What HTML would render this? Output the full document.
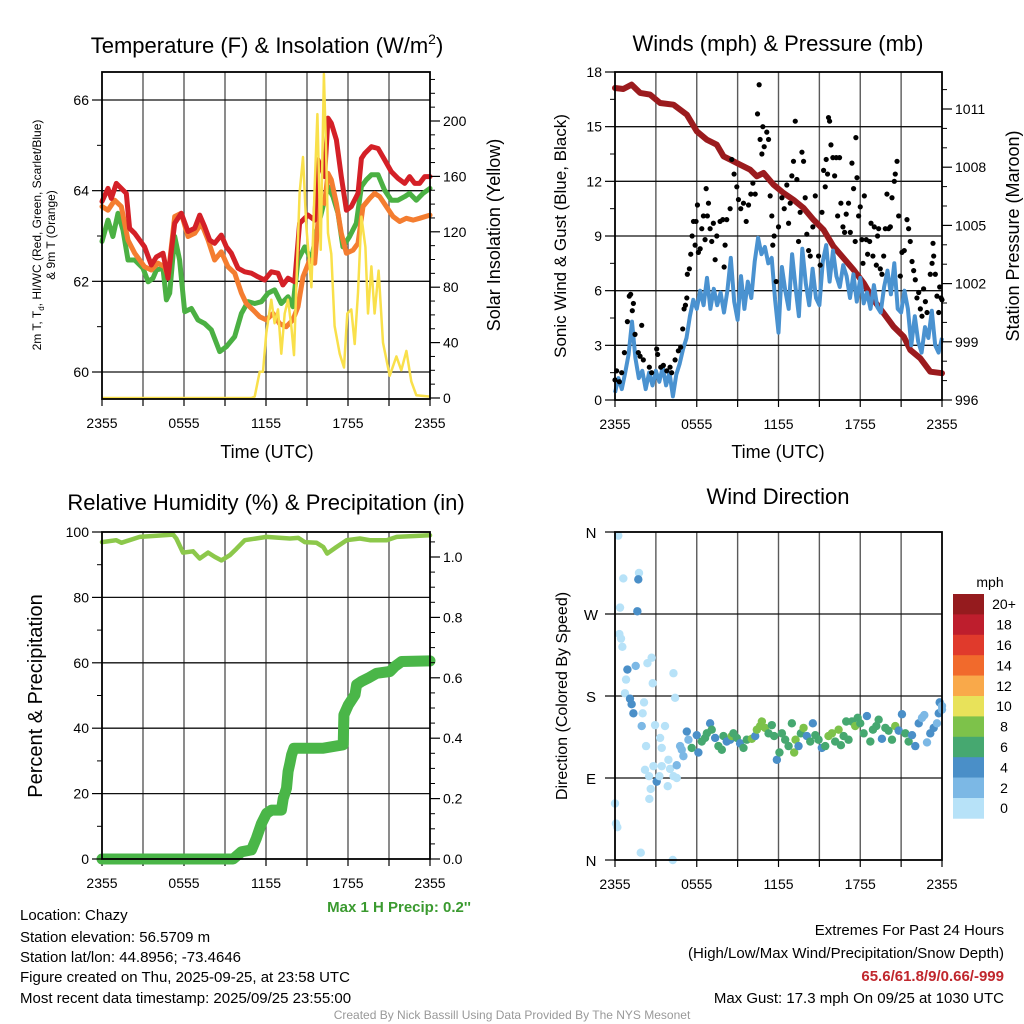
<!DOCTYPE html>
<html><head><meta charset="utf-8"><style>
html,body{margin:0;padding:0;background:#fff;}
svg{display:block;font-family:"Liberation Sans",Arial,sans-serif;}
</style></head><body>
<svg id="fig" width="1024" height="1024" viewBox="0 0 1024 1024" xmlns="http://www.w3.org/2000/svg">
<rect width="1024" height="1024" fill="#fff"/>
<g id="p1"></g>
<g id="p2"></g>
<g id="p3"></g>
<g id="p4"></g>
<text x="267" y="53" font-size="22" text-anchor="middle">Temperature (F) &amp; Insolation (W/m<tspan font-size="14" dy="-9">2</tspan><tspan dy="9">)</tspan></text>
<text x="778" y="51" font-size="22" text-anchor="middle">Winds (mph) &amp; Pressure (mb)</text>
<text x="266" y="510" font-size="22" text-anchor="middle">Relative Humidity (%) &amp; Precipitation (in)</text>
<text x="778" y="504" font-size="22" text-anchor="middle">Wind Direction</text>
<text x="267" y="458" font-size="18" text-anchor="middle">Time (UTC)</text>
<text x="778" y="458" font-size="18" text-anchor="middle">Time (UTC)</text>
<text transform="translate(41,235) rotate(-90)" font-size="12" text-anchor="middle">2m T, T<tspan font-size="8" dy="3">d</tspan><tspan dy="-3">, HI/WC (Red, Green, Scarlet/Blue)</tspan></text>
<text transform="translate(55,235) rotate(-90)" font-size="12" text-anchor="middle">&amp; 9m T (Orange)</text>
<text transform="translate(500,235) rotate(-90)" font-size="18" text-anchor="middle">Solar Insolation (Yellow)</text>
<text transform="translate(566,236) rotate(-90)" font-size="17" text-anchor="middle">Sonic Wind &amp; Gust (Blue, Black)</text>
<text transform="translate(1019,236) rotate(-90)" font-size="18" text-anchor="middle">Station Pressure (Maroon)</text>
<text transform="translate(42,696) rotate(-90)" font-size="20" text-anchor="middle">Percent &amp; Precipitation</text>
<text transform="translate(567,696) rotate(-90)" font-size="16" text-anchor="middle">Direction (Colored By Speed)</text>
<text x="471" y="912" font-size="15" font-weight="bold" fill="#3a9a2f" text-anchor="end">Max 1 H Precip: 0.2''</text>
<g font-size="15">
<text x="20" y="920">Location: Chazy</text>
<text x="20" y="942">Station elevation: 56.5709 m</text>
<text x="20" y="962">Station lat/lon: 44.8956; -73.4646</text>
<text x="20" y="982">Figure created on Thu, 2025-09-25, at 23:58 UTC</text>
<text x="20" y="1003">Most recent data timestamp: 2025/09/25 23:55:00</text>
</g>
<g font-size="15" text-anchor="end">
<text x="1004" y="935">Extremes For Past 24 Hours</text>
<text x="1004" y="958">(High/Low/Max Wind/Precipitation/Snow Depth)</text>
<text x="1004" y="981" font-weight="bold" fill="#c0272d">65.6/61.8/9/0.66/-999</text>
<text x="1004" y="1003">Max Gust: 17.3 mph On 09/25 at 1030 UTC</text>
</g>
<text x="512" y="1019" font-size="12" fill="#999" text-anchor="middle">Created By Nick Bassill Using Data Provided By The NYS Mesonet</text>
</svg>
<script>
// ---------- data ----------
const xTickLabels = ["2355","0555","1155","1755","2355"];
const tempTicks = [60,62,64,66];
const solarTicks = [0,40,80,120,160,200];
const windTicks = [0,3,6,9,12,15,18];
const presTicks = [996,999,1002,1005,1008,1011];
const rhTicks = [0,20,40,60,80,100];
const precipTicks = ["0.0","0.2","0.4","0.6","0.8","1.0"];
const dirLabels = ["N","W","S","E","N"];
const speedBins = ["0","2","4","6","8","10","12","14","16","18","20+"];

const redHours = [0,0.44,0.68,1.05,1.41,1.78,2.02,2.39,3.12,3.61,3.98,4.46,4.83,5.32,5.8,6.29,6.78,7.15,7.51,7.88,8.24,8.73,9.1,9.46,9.95,10.44,10.93,11.41,11.9,12.39,12.88,13.24,13.61,14.1,14.46,15.07,15.56,15.8,16.29,16.54,16.78,17.15,17.51,17.88,18.24,18.73,18.98,19.22,19.71,20.2,20.68,21.17,21.66,22.15,22.51,22.88,23.24,23.61,24];
const redTemp = [63.76,64.05,63.83,64.16,64.05,63.94,63.17,63.06,62.76,62.36,62.54,62.62,62.07,63.28,63.5,63.1,63.17,63.46,63.21,62.91,62.84,63.02,62.76,62.62,62.29,62.21,62.18,62.1,62.03,62.21,62.18,61.92,62.07,61.99,63.28,63.46,63.35,64.68,64.31,65.6,65.49,65.12,64.31,63.57,63.65,63.94,64.71,64.82,64.97,64.93,64.68,64.42,64.27,64.16,64.31,64.16,64.16,64.31,64.31];

const orangeHours = [0,0.44,0.93,1.41,1.9,2.39,3.12,3.61,4.1,4.59,4.83,5.32,5.8,6.29,6.78,7.27,7.76,8.24,8.73,9.22,9.71,10.2,10.56,11.05,11.54,12.02,12.51,12.99,13.48,13.97,14.34,14.71,15.2,15.56,15.93,16.29,16.54,16.78,17.15,17.51,17.88,18.37,18.73,19.1,19.59,19.95,20.32,20.8,21.29,21.78,22.27,22.76,23.24,24];
const orangeTemp = [63.65,63.57,63.79,63.65,62.91,62.62,62.32,62.25,62.4,62.32,62.1,63.43,63.5,62.99,63.06,63.28,62.91,62.47,62.65,62.32,62.18,61.74,61.51,61.37,61.22,61.15,61.29,61.07,61.0,61.15,61.44,62.1,62.47,62.4,63.79,63.72,64.38,64.24,63.72,63.06,62.62,62.69,62.84,63.65,63.83,63.94,63.87,63.65,63.43,63.32,63.39,63.35,63.39,63.46];

const greenHours = [0,0.44,0.8,1.17,1.54,1.9,2.39,3.0,3.37,3.73,3.98,4.46,4.71,4.95,5.32,5.68,6.05,6.54,7.02,7.51,8.0,8.61,9.1,9.71,10.2,10.68,11.17,11.66,12.15,12.63,13.12,13.61,13.97,14.34,14.83,15.32,15.68,16.17,16.54,16.9,17.27,17.63,18.12,18.61,18.98,19.34,19.71,20.2,20.68,21.17,21.66,22.15,22.51,23.0,23.49,24];
const greenTemp = [62.88,63.35,62.99,63.5,63.13,62.47,62.47,62.29,61.99,62.07,62.25,62.29,61.59,61.74,62.99,62.47,61.33,61.4,61.15,61.07,60.93,60.45,60.56,60.78,61.29,61.55,61.51,61.55,61.74,61.81,61.51,61.66,61.44,62.47,62.76,62.47,63.06,63.65,64.09,63.87,63.5,62.76,62.99,63.28,64.09,64.24,64.35,64.35,64.01,63.79,63.79,63.87,63.94,63.79,63.94,64.05];

const solarHours = [0,10.93,11.17,11.54,11.78,12.02,12.39,12.63,12.88,13.12,13.37,13.61,13.85,14.05,14.22,14.46,14.71,14.95,15.32,15.56,15.76,16.0,16.24,16.41,16.54,16.78,17.02,17.39,17.71,17.95,18.24,18.49,18.73,18.98,19.27,19.46,19.71,19.95,20.24,20.56,21.05,21.54,21.9,22.27,22.63,23.0,24];
const solarValues = [0,0,1,19,19,47,71,54,64,32,61,71,52,31,80,148,174,124,80,153,205,107,234,172,119,104,52,32,22,61,64,39,76,131,109,61,95,61,92,40,16,30,20,34,12,2,1];

const presHours = [0,0.61,1.22,1.84,2.57,3.31,4.29,5.27,6.0,6.74,7.47,7.96,8.45,9.18,9.92,10.41,10.9,11.63,12.37,13.1,13.84,14.57,15.31,16.04,16.78,17.51,18.25,18.98,19.72,20.45,21.19,21.67,22.41,23.14,24];
const presValues = [1012.08,1012.03,1012.26,1011.83,1011.74,1011.31,1011.22,1010.71,1009.85,1009.42,1009.16,1008.56,1008.39,1008.13,1007.87,1007.53,1007.7,1007.1,1006.67,1006.32,1005.89,1005.29,1004.77,1003.91,1003.31,1002.71,1002.02,1001.16,1000.47,999.78,999.27,998.58,998.15,997.46,997.38];

const windHours = [0,0.25,0.5,0.75,1,1.25,1.5,1.75,2,2.25,2.5,2.75,3,3.25,3.5,3.75,4,4.25,4.5,4.75,5,5.25,5.5,5.75,6,6.25,6.5,6.75,7,7.25,7.5,7.75,8,8.25,8.5,8.75,9,9.25,9.5,9.75,10,10.25,10.5,10.75,11,11.25,11.5,11.75,12,12.25,12.5,12.75,13,13.25,13.5,13.75,14,14.25,14.5,14.75,15,15.25,15.5,15.75,16,16.25,16.5,16.75,17,17.25,17.5,17.75,18,18.25,18.5,18.75,19,19.25,19.5,19.75,20,20.25,20.5,20.75,21,21.25,21.5,21.75,22,22.25,22.5,22.75,23,23.25,23.5,23.75,24];
const windSpeed = [0.4,1.2,0.6,1.5,2.5,4.3,2.3,1.2,1.6,0.6,1.5,0.8,1.6,1.0,1.8,0.8,1.5,0.2,1.4,2.0,2.8,3.4,4.6,5.5,5.0,6.0,5.2,6.7,5.0,6.1,5.2,5.9,4.8,6.0,7.8,5.4,4.4,6.8,5.0,6.5,5.6,7.6,8.9,8.0,8.4,7.5,7.8,5.5,3.7,7.3,6.0,5.0,8.0,6.2,4.6,8.3,6.4,5.2,7.2,5.6,5.2,7.6,8.5,6.5,8.2,6.8,6.2,7.4,6.8,5.6,6.9,5.4,6.7,5.3,5.9,5.0,6.3,5.1,4.8,6.2,7.1,5.8,7.5,5.0,4.8,6.0,5.0,3.0,4.6,3.2,2.6,4.0,3.4,4.9,3.0,2.6,3.4];

const gustHours = [0,0.12,0.32,0.49,0.69,0.91,1.05,1.15,1.27,1.35,1.47,1.71,1.84,1.96,2.08,2.52,2.69,3.06,3.13,3.36,3.55,3.8,4.04,4.16,4.41,4.65,4.82,4.97,5.07,5.17,5.27,5.31,5.46,5.56,5.66,5.76,5.88,5.95,6.05,6.12,6.25,6.37,6.49,6.61,6.69,6.78,6.86,6.98,7.1,7.22,7.35,7.47,7.71,7.91,8.01,8.08,8.2,8.45,8.57,8.74,8.94,9.06,9.23,9.43,9.63,9.8,9.97,10.12,10.29,10.46,10.58,10.65,10.78,10.85,10.95,11.14,11.27,11.39,11.51,11.58,11.68,11.83,12.0,12.25,12.42,12.61,12.74,12.86,12.98,13.1,13.23,13.35,13.47,13.59,13.72,13.84,13.96,14.08,14.21,14.33,14.52,14.7,14.94,15.06,15.19,15.31,15.43,15.5,15.6,15.67,15.75,15.85,15.99,16.12,16.24,16.34,16.48,16.58,16.73,16.85,16.97,17.14,17.27,17.39,17.51,17.63,17.68,17.76,17.88,18.0,18.12,18.2,18.3,18.44,18.54,18.69,18.79,18.93,19.03,19.18,19.27,19.35,19.47,19.59,19.72,19.84,19.96,20.08,20.21,20.33,20.5,20.57,20.7,20.82,20.94,21.06,21.23,21.43,21.55,21.67,21.8,21.92,22.04,22.16,22.29,22.41,22.53,22.65,22.78,22.9,23.14,23.27,23.34,23.39,23.51,23.63,23.76,23.83,23.93,24.0];
const gustSpeed = [1.1,1.6,1.0,1.5,2.6,4.3,5.7,5.8,4.9,5.3,3.6,2.6,2.4,4.1,2.2,1.8,1.5,2.8,2.5,1.8,1.9,1.6,1.8,1.5,2.2,2.7,2.9,3.9,5.0,5.2,5.6,6.9,7.2,8.0,9.0,9.8,8.5,9.8,10.7,8.1,8.3,9.4,10.1,8.8,11.6,10.1,10.8,9.4,8.7,9.7,7.7,9.0,9.8,9.9,7.3,8.5,9.9,10.5,13.2,12.4,11.7,11.0,10.5,10.8,9.8,10.7,11.3,11.9,11.3,15.7,17.3,14.3,13.5,15.0,13.9,14.7,14.3,11.2,10.1,8.5,9.0,6.5,9.5,11.1,10.5,11.8,9.7,10.8,12.3,13.1,15.3,12.1,8.7,10.3,13.6,13.1,11.1,9.1,8.2,7.9,9.5,11.2,7.9,7.4,10.3,12.6,11.7,13.2,12.4,15.5,15.3,14.0,13.3,12.3,13.3,10.1,13.3,10.8,9.5,9.2,10.2,10.8,9.2,13.0,11.6,8.7,14.4,12.2,10.1,10.6,8.8,7.5,11.2,8.8,8.0,8.7,9.7,7.9,9.5,7.4,9.0,9.4,7.2,6.9,7.9,9.4,11.3,9.4,9.5,11.1,12.0,12.4,13.1,10.1,6.8,8.1,8.2,9.9,9.4,8.7,7.6,7.1,6.6,5.6,5.9,5.0,4.6,6.1,5.4,4.8,6.9,7.5,8.6,7.9,6.9,5.7,4.8,6.2,5.6,5.5];

const rhHours = [0,1.05,1.42,2.76,5.2,5.44,5.93,6.66,7.15,7.76,8.25,8.74,9.35,9.84,10.45,12.04,13.74,14.36,14.84,15.7,16.19,16.48,17.16,17.9,18.87,19.6,20.83,21.56,24];
const rhValues = [96.9,97.5,96.7,98.5,99.2,98.0,93.7,94.1,91.9,93.7,92.4,91.3,92.9,94.9,97.5,98.5,98.0,98.2,96.9,96.7,95.4,93.4,95.4,97.5,98.0,97.5,97.5,98.5,99.0];

const precipHours = [0,9.59,10.2,10.94,11.3,11.67,12.04,12.4,13.13,13.26,13.5,13.62,13.75,13.87,14.04,16.19,17.65,17.7,18.02,18.51,18.63,18.99,19.48,20.09,21.07,21.44,21.92,24];
const precipValues = [0,0,0.024,0.03,0.069,0.118,0.151,0.162,0.162,0.2,0.234,0.29,0.317,0.345,0.367,0.367,0.378,0.477,0.51,0.544,0.577,0.588,0.599,0.615,0.621,0.638,0.654,0.656];

const dirHours = [0.24,0.61,0.37,1.76,1.71,1.64,0.32,0.44,0.54,0.91,1.52,2.69,2.38,4.29,0.81,0.73,2.77,1.10,1.22,1.35,2.03,2.13,1.96,2.94,3.67,3.31,2.28,3.43,4.41,0,0.07,0.17,1.89,4.24,2.52,2.62,2.50,2.20,2.82,3.06,3.26,3.43,3.92,4.04,4.29,4.53,3.87,4.53,4.78,5.02,4.90,
5.27,5.39,5.63,6.0,6.12,6.37,6.61,6.74,6.98,7.10,7.35,7.59,7.84,7.96,8.20,8.45,8.57,8.69,8.94,9.18,9.43,9.67,10.04,10.29,10.41,10.65,10.78,11.02,11.27,11.51,11.68,11.88,12.07,12.25,12.49,12.74,12.98,13.15,13.25,13.47,13.64,13.84,14.08,14.33,14.52,14.70,14.94,15.18,15.43,15.67,15.92,16.16,16.41,16.58,16.78,16.97,17.14,17.39,17.63,17.81,18.0,18.25,18.49,18.74,18.93,19.18,19.35,19.59,19.84,20.08,20.33,20.57,20.82,21.06,21.31,21.55,21.80,22.04,22.29,22.53,22.70,22.90,23.14,23.39,23.63,23.76,23.83,24.0,24.0];
const dirDegrees = [356,309,277,315,308,273,248,243,234,209,213,222,216,205,198,183,194,177,171,161,161,173,147,148,147,134,125,123,178,62,40,36,8,0,67,78,92,99,103,86,92,103,110,100,92,90,81,104,125,114,121,
141,132,123,137,118,130,134,139,150,143,134,125,121,136,130,132,136,139,134,128,123,132,133,136,143,147,152,145,139,148,136,110,118,139,132,125,150,118,132,125,139,145,136,130,150,137,132,123,125,136,139,130,143,126,136,152,132,152,147,156,150,139,158,130,143,147,154,133,145,142,132,147,142,160,139,130,137,125,150,156,159,129,139,145,150,161,173,165,169];
const dirSpeed = [1,1,1,1,5,5,1,1,1,5,3,1,1,1,1,1,1,5,5,5,1,1,3,1,1,1,1,1,1,1,1,1,1,1,1,1,1,1,1,5,1,1,1,1,1,1,1,3,3,3,3,
5,3,7,5,5,7,7,7,5,7,5,7,7,7,5,5,9,7,7,5,7,7,9,5,9,9,9,9,7,7,7,5,7,7,7,7,7,9,9,5,7,9,5,7,5,7,7,5,7,9,9,7,9,7,7,7,7,7,9,7,7,7,5,7,7,7,7,5,7,7,7,9,5,5,7,7,5,5,5,3,3,3,5,5,3,5,5,3,3];

// ---------- helpers ----------
const NS="http://www.w3.org/2000/svg";
function el(parent,tag,attrs){const e=document.createElementNS(NS,tag);for(const k in attrs)e.setAttribute(k,attrs[k]);parent.appendChild(e);return e;}
function lin(d0,d1,r0,r1){return v=>r0+(v-d0)*(r1-r0)/(d1-d0);}
function pathFrom(xs,ys,fx,fy){const n=Math.min(xs.length,ys.length);let d="";for(let i=0;i<n;i++)d+=(i?"L":"M")+fx(xs[i]).toFixed(1)+","+fy(ys[i]).toFixed(1);return d;}

function frame(g,L,R,T,B,hlines,fy){
  const fx=lin(0,24,L,R);
  for(let i=1;i<8;i++){const x=fx(i*3);
    const v=el(g,"line",{x1:x,x2:x,y1:T,y2:B,stroke:"#5a5a5a","stroke-width":1.4});
    
    }
  hlines.forEach(val=>{const y=fy(val);
    const h=el(g,"line",{x1:L,x2:R,y1:y,y2:y,stroke:"#111","stroke-width":1.3});
    
    });
  for(let i=0;i<=8;i++){const x=fx(i*3);
    const t=el(g,"line",{x1:x,x2:x,y1:B,y2:B+7,stroke:"#000","stroke-width":1.2});
    
    }
  xTickLabels.forEach((lab,i)=>{
    const t=el(g,"text",{x:fx(i*6),y:B+29,"font-size":14,"text-anchor":"middle"});
    t.textContent=lab;
    
    });
  return fx;
}
function box(g,L,R,T,B){const b=el(g,"rect",{x:L,y:T,width:R-L,height:B-T,fill:"none",stroke:"#000","stroke-width":1.8});
  
  }
function yAxis(g,vals,labels,fy,x,side,minor){
  vals.forEach((v,i)=>{const y=fy(v);
    const t=el(g,"line",{x1:x,x2:x+(side<0?-10:10),y1:y,y2:y,stroke:"#000","stroke-width":1.2});
    
    
    const tx=el(g,"text",{x:x+(side<0?-13:13),y:y+5,"font-size":14,"text-anchor":side<0?"end":"start"});
    tx.textContent=labels[i];
    
    });
  (minor||[]).forEach(v=>{const y=fy(v);
    const t=el(g,"line",{x1:x,x2:x+(side<0?-5:5),y1:y,y2:y,stroke:"#000","stroke-width":1});
    
    });
}
function range(a,b,s){const r=[];for(let v=a;v<=b+1e-9;v+=s)r.push(+v.toFixed(3));return r;}

// ---------- panel 1 ----------
(function(){
  const g=document.getElementById("p1");const L=102,R=430,T=72,B=399;
  const fy=lin(60,66,372,100);const fs=lin(0,200,398,121);
  const fx=frame(g,L,R,T,B,tempTicks,fy);
  const series=[[greenHours,greenTemp,"#4bb043","green-dewpoint-line"],[orangeHours,orangeTemp,"#f47d30","orange-9m-temperature-line"],[redHours,redTemp,"#d42027","red-temperature-line"]];
  series.forEach(s=>{
    const p=el(g,"path",{d:pathFrom(s[0],s[1],fx,fy),fill:"none",stroke:s[2],"stroke-width":5,"stroke-linejoin":"round","stroke-linecap":"round"});
    
    });
  const sp=el(g,"path",{d:pathFrom(solarHours,solarValues,fx,fs),fill:"none",stroke:"#f9e04b","stroke-width":2.5,"stroke-linejoin":"round"});
  
  
  box(g,L,R,T,B);
  yAxis(g,tempTicks,tempTicks.map(String),fy,L,-1,[61,63,65]);
  yAxis(g,solarTicks,solarTicks.map(String),fs,R,1,range(10,230,10).filter(v=>v%40));
})();

// ---------- panel 2 ----------
(function(){
  const g=document.getElementById("p2");const L=615,R=942,T=72,B=400;
  const fy=lin(0,18,400,72);const fp=lin(996,1011,400,109);
  const fx=frame(g,L,R,T,B,[3,6,9,12,15],fy);
  const pp=el(g,"path",{d:pathFrom(presHours,presValues,fx,fp),fill:"none",stroke:"#9b1b1e","stroke-width":6,"stroke-linejoin":"round","stroke-linecap":"round"});
  
  
  const wp=el(g,"path",{d:pathFrom(windHours,windSpeed,fx,fy),fill:"none",stroke:"#4a92d0","stroke-width":4,"stroke-linejoin":"round"});
  
  
  const n=Math.min(gustHours.length,gustSpeed.length);
  for(let i=0;i<n;i++){
    const c=el(g,"circle",{cx:fx(gustHours[i]),cy:fy(gustSpeed[i]),r:2.6,fill:"#000"});
    
    }
  box(g,L,R,T,B);
  yAxis(g,windTicks,windTicks.map(String),fy,L,-1,range(1.5,16.5,3));
  yAxis(g,presTicks,presTicks.map(String),fp,R,1,range(997,1012,1).filter(v=>(v-996)%3));
})();

// ---------- panel 3 ----------
(function(){
  const g=document.getElementById("p3");const L=102,R=430,T=532,B=859;
  const fy=lin(0,100,859,532);const fp=lin(0,1,859,557);
  const fx=frame(g,L,R,T,B,[20,40,60,80],fy);
  const rp=el(g,"path",{d:pathFrom(rhHours,rhValues,fx,fy),fill:"none",stroke:"#8cc84b","stroke-width":4.5,"stroke-linejoin":"round","stroke-linecap":"round"});
  
  
  const pr=el(g,"path",{d:pathFrom(precipHours,precipValues,fx,fp),fill:"none",stroke:"#4ab648","stroke-width":11,"stroke-linejoin":"round","stroke-linecap":"round"});
  
  
  box(g,L,R,T,B);
  yAxis(g,rhTicks,rhTicks.map(String),fy,L,-1,range(10,90,20));
  yAxis(g,precipTicks.map(Number),precipTicks,fp,R,1,range(0.05,1.05,0.05).filter(v=>Math.round(v*100)%20));
})();

// ---------- panel 4 ----------
(function(){
  const g=document.getElementById("p4");const L=615,R=942,T=532,B=860;
  const fy=lin(0,360,860,532);
  const fx=frame(g,L,R,T,B,[90,180,270],fy);
  const cols=["#b7e2f8","#7cb8e5","#4a8fc8","#46a870","#7dc24a","#e8e25a","#f9a94a","#f16a2c","#e03a2c","#be1e2d","#951b1e"];
  const n=Math.min(dirHours.length,dirDegrees.length,dirSpeed.length);
  for(let i=0;i<n;i++){
    const bin=Math.min(10,Math.floor(dirSpeed[i]/2));
    const c=el(g,"circle",{cx:fx(dirHours[i]),cy:fy(dirDegrees[i]),r:4.2,fill:cols[bin]});
    
    }
  box(g,L,R,T,B);
  [360,270,180,90,0].forEach((d,i)=>{const y=fy(d);
    const t=el(g,"line",{x1:L,x2:L-10,y1:y,y2:y,stroke:"#000","stroke-width":1.2});
    
    
    const tx=el(g,"text",{x:L-24,y:y+6,"font-size":15,"text-anchor":"middle"});
    tx.textContent=dirLabels[i];
    
    });
  const cb=el(g,"g",{});
  
  
  const ct=el(cb,"text",{x:990,y:587,"font-size":14,"text-anchor":"middle"});ct.textContent="mph";
  
  
  const top=594,h=20.4;
  speedBins.forEach((lab,i)=>{const idx=10-i;const y=top+i*h;
    const r=el(cb,"rect",{x:953,y:y,width:31,height:h+0.3,fill:cols[idx]});
    
    
    const t=el(cb,"text",{x:1004,y:y+h/2+5,"font-size":14,"text-anchor":"middle"});
    t.textContent=speedBins[idx];
    
    });
})();
</script>
</body></html>
